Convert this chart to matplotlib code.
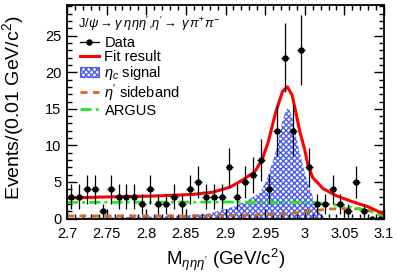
import matplotlib
matplotlib.use("Agg")
import matplotlib.pyplot as plt
import numpy as np
from matplotlib.lines import Line2D
from matplotlib.patches import Patch
from matplotlib.ticker import MultipleLocator, FuncFormatter

plt.rcParams['font.family'] = ['Liberation Sans', 'DejaVu Sans']
plt.rcParams['mathtext.fontset'] = 'custom'
plt.rcParams['mathtext.rm'] = 'Liberation Sans'
plt.rcParams['mathtext.it'] = 'Liberation Sans:italic'
plt.rcParams['hatch.linewidth'] = 1.0

# data histogram (0.01 GeV bins)
bin_centers = np.arange(40) * 0.01 + 2.705
counts = [3, 3, 4, 4, 1, 4, 3, 3, 3, 2,
          4, 2, 2, 3, 2, 4, 5, 3, 3, 3,
          7, 3, 5, 6, 8, 4, 12, 22, 12, 23,
          7, 2, 2, 4, 2, 1, 5, 1, 0, 0]

# curves
fit_m = [2.70, 2.75, 2.80, 2.817, 2.859, 2.884, 2.906, 2.922, 2.937, 2.946,
         2.954, 2.963, 2.972, 2.978, 2.984, 2.989, 2.994, 3.000, 3.004, 3.010,
         3.017, 3.023, 3.040, 3.060, 3.080, 3.090, 3.100]
fit_y = [2.8, 2.95, 3.05, 3.1, 3.3, 3.6, 4.3, 5.3, 6.4, 8.0,
         10.5, 14.4, 17.4, 18.0, 16.9, 14.4, 11.8, 9.4, 7.3, 5.6,
         4.8, 4.1, 3.1, 2.3, 1.6, 1.1, 0.6]

sig_m = [2.70, 2.75, 2.80, 2.85, 2.88, 2.91, 2.93, 2.944, 2.952, 2.959,
         2.965, 2.971, 2.975, 2.978, 2.981, 2.984, 2.992, 3.000, 3.007, 3.013,
         3.019, 3.026, 3.032, 3.100]
sig_y = [0.1, 0.15, 0.25, 0.4, 0.7, 1.6, 2.6, 3.6, 5.3, 7.6,
         9.8, 13.0, 14.5, 15.1, 14.8, 13.9, 9.8, 6.2, 3.9, 2.1,
         0.7, 0.15, 0.0, 0.0]

side_m = [2.70, 2.85, 2.95, 2.99, 3.01, 3.03, 3.05, 3.07, 3.085, 3.10]
side_y = [0.35, 0.35, 0.5, 0.8, 1.05, 1.3, 1.35, 1.3, 1.0, 0.6]

argus_m = [2.70, 2.90, 3.00, 3.02, 3.05, 3.07, 3.085, 3.10]
argus_y = [2.2, 2.25, 2.2, 2.1, 1.7, 1.3, 0.9, 0.3]

blue = '#4a5cf0'

fig = plt.figure(figsize=(3.97, 2.73), dpi=100)
ax = fig.add_axes([0.1688, 0.1996, 0.7985, 0.7821])

ax.fill_between(sig_m, sig_y, 0, facecolor='white', edgecolor=blue,
                hatch='xxxxxx', linewidth=0)
ax.plot(side_m, side_y, color='#d2691e', lw=2, ls=(0, (2.5, 2)))
ax.plot(argus_m, argus_y, color='#22e822', lw=2, ls=(0, (4, 1.5, 1, 1.5)))
ax.plot(fit_m, fit_y, color='red', lw=2.2)
ax.errorbar(bin_centers, counts, yerr=np.sqrt(counts), xerr=0.005,
            fmt='o', color='black', ms=3.6, elinewidth=0.9, capsize=0)

ax.set_xlim(2.7, 3.1)
ax.set_ylim(0, 29.2)
ax.xaxis.set_major_locator(MultipleLocator(0.05))
ax.xaxis.set_minor_locator(MultipleLocator(0.01))
ax.yaxis.set_major_locator(MultipleLocator(5))
ax.yaxis.set_minor_locator(MultipleLocator(1))
ax.xaxis.set_major_formatter(FuncFormatter(lambda v, p: f'{v:g}'))
ax.tick_params(which='both', direction='in', top=True, right=True,
               labelsize=10.5, width=1)
ax.tick_params(which='major', length=7)
ax.tick_params(which='minor', length=3.5)
ax.tick_params(axis='x', which='major', pad=6)
ax.tick_params(axis='y', which='major', pad=4)
for s in ax.spines.values():
    s.set_linewidth(1.3)

ax.set_ylabel('Events/(0.01 GeV/c$^2$)', fontsize=14)
ax.yaxis.set_label_coords(-0.13, 0.52)
ax.set_xlabel(r"M$_{\eta\eta\eta'}$ (GeV/c$^2$)", fontsize=13.5)
ax.xaxis.set_label_coords(0.5, -0.13)

ax.text(0.035, 0.912, r"J/$\psi\rightarrow\gamma\;\eta\eta\eta'$,$\eta'\rightarrow\;\gamma\,\pi^{+}\pi^{-}$",
        transform=ax.transAxes, fontsize=9.3, va='center', ha='left')

handles = [
    Line2D([], [], color='black', marker='o', ms=3.6, lw=0.9),
    Line2D([], [], color='red', lw=2.2),
    Patch(facecolor='white', edgecolor=blue, hatch='xxxxxx', lw=0.8),
    Line2D([], [], color='#d2691e', lw=2, ls=(0, (2.5, 2))),
    Line2D([], [], color='#22e822', lw=2, ls=(0, (4, 1.5, 1, 1.5))),
]
labels = ['Data', 'Fit result', r'$\eta_c$ signal', r"$\eta'$ sideband", 'ARGUS']
ax.legend(handles, labels, loc='upper left', bbox_to_anchor=(0.04, 0.855),
          frameon=False, fontsize=10.5, handlelength=1.3, handleheight=0.7,
          labelspacing=0.0, borderaxespad=0, borderpad=0, handletextpad=0.4)

fig.savefig('out.png', dpi=100)
